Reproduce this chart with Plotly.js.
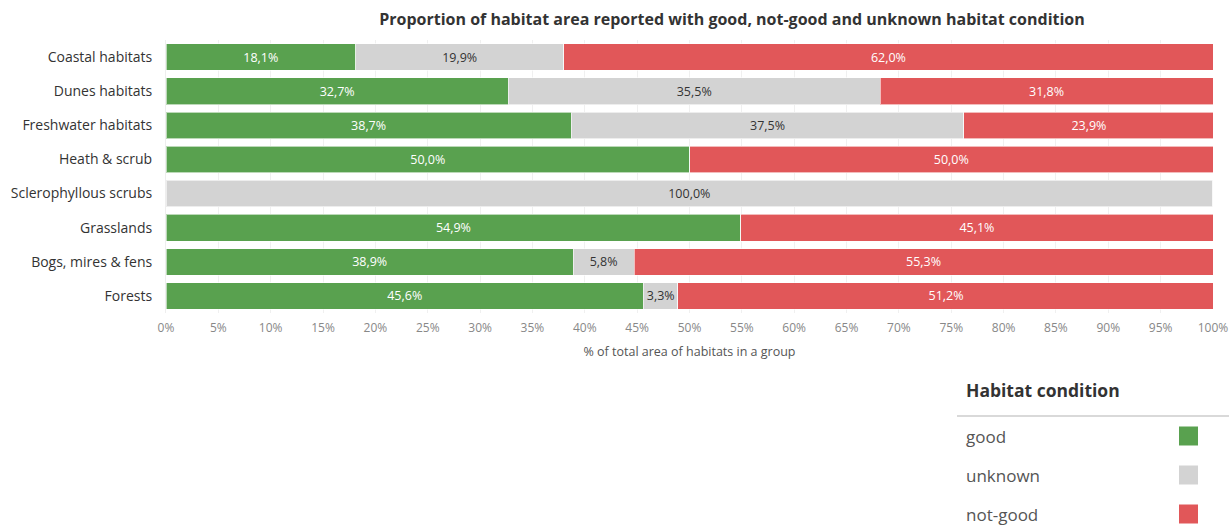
<!DOCTYPE html>
<html><head><meta charset="utf-8">
<script src="https://cdn.plot.ly/plotly-3.0.1.min.js"></script>
<style>html,body{margin:0;padding:0;background:#fff}#chart{width:1229px;height:530px}</style>
</head><body><div id="chart"></div>
<script>
const categories = ["Coastal habitats","Dunes habitats","Freshwater habitats","Heath & scrub","Sclerophyllous scrubs","Grasslands","Bogs, mires & fens","Forests"];
const good    = [18.1, 32.7, 38.7, 50.0, 0,     54.9, 38.9, 45.6];
const unknown = [19.9, 35.5, 37.5, 0,    99.96, 0,    5.8,  3.3];
const notGood = [62.0, 31.8, 23.9, 50.0, 0.04,  45.1, 55.3, 51.2];
const seriesNames = ["good","unknown","not-good"];
const seriesColors = ["#59A14F","#D3D3D3","#E15759"];
const textColors = ["#ffffff","#333333","#ffffff"];
const xTicks = [0,5,10,15,20,25,30,35,40,45,50,55,60,65,70,75,80,85,90,95,100];

const FONT = "'Open Sans', 'Noto Sans', sans-serif";
const fmt = v => v >= 0.5 ? v.toFixed(1).replace('.', ',') + '%' : '';

const series = [good, unknown, notGood];
const traces = series.map((vals, i) => ({
  type: 'bar', orientation: 'h',
  y: categories, x: vals,
  name: seriesNames[i],
  marker: {color: seriesColors[i], line: {color: 'rgba(255,255,255,0.6)', width: 1}},
  text: vals.map(fmt), texttemplate: '%{text}',
  textposition: 'inside', insidetextanchor: 'middle',
  textfont: {family: FONT, size: 12.5, color: textColors[i]},
  constraintext: 'none',
  hoverinfo: 'name+x', showlegend: false
}));

// legend drawn as annotations + swatches
const annotations = [];
annotations.push({xref:'paper', yref:'paper', x:(964-166)/1047, y:-(390-313)/273, xanchor:'left', yanchor:'middle',
  text:'<b>Habitat condition</b>', showarrow:false, font:{family:FONT, size:17.5, color:'#333'}});
const shapes = [{type:'line', xref:'paper', yref:'paper', x0:(957-166)/1047, x1:(1229-166)/1047,
  y0:-(416-313)/273, y1:-(416-313)/273, line:{color:'#d9d9d9', width:2}}];
const legendY = [436, 475, 514];
seriesNames.forEach((n, i) => {
  const yp = -(legendY[i]-313)/273;
  annotations.push({xref:'paper', yref:'paper', x:(964-166)/1047, y:yp, xanchor:'left', yanchor:'middle',
    text:n, showarrow:false, font:{family:FONT, size:17, color:'#555'}});
  shapes.push({type:'rect', xref:'paper', yref:'paper',
    x0:(1179-166)/1047, x1:(1198-166)/1047, y0:yp-9.5/273, y1:yp+9.5/273,
    fillcolor:seriesColors[i], line:{width:0}});
});

const layout = {
  width: 1229, height: 530,
  margin: {l: 166, r: 16, t: 40, b: 217},
  barmode: 'stack', bargap: 0.22,
  paper_bgcolor: '#fff', plot_bgcolor: '#fff',
  separators: ',.',
  font: {family: FONT, color: '#333'},
  title: {text: '<b>Proportion of habitat area reported with good, not-good and unknown habitat condition</b>',
    x: 732/1229, xanchor: 'center', xref: 'container', y: 1 - 19/530, yanchor: 'middle', yref: 'container',
    font: {family: FONT, size: 16, color: '#333'}},
  xaxis: {range: [0, 100], tickvals: xTicks, ticktext: xTicks.map(t => t + '%'),
    showgrid: true, gridcolor: '#f0f0f0', zeroline: false, showline: false,
    ticks: '', ticklabelstandoff: 6,
    tickfont: {family: FONT, size: 12, color: '#888'},
    title: {text: '% of total area of habitats in a group', standoff: 12, font: {family: FONT, size: 12.5, color: '#555'}},
    fixedrange: true},
  yaxis: {categoryorder: 'array', categoryarray: categories, autorange: 'reversed',
    showgrid: false, zeroline: false, showline: true, linecolor: '#eeeeee', ticks: '',
    ticklabelstandoff: 10,
    tickfont: {family: FONT, size: 14, color: '#333'}, fixedrange: true},
  shapes: shapes, annotations: annotations
};

Plotly.newPlot('chart', traces, layout, {displayModeBar: false, staticPlot: true});
</script>
</body></html>
